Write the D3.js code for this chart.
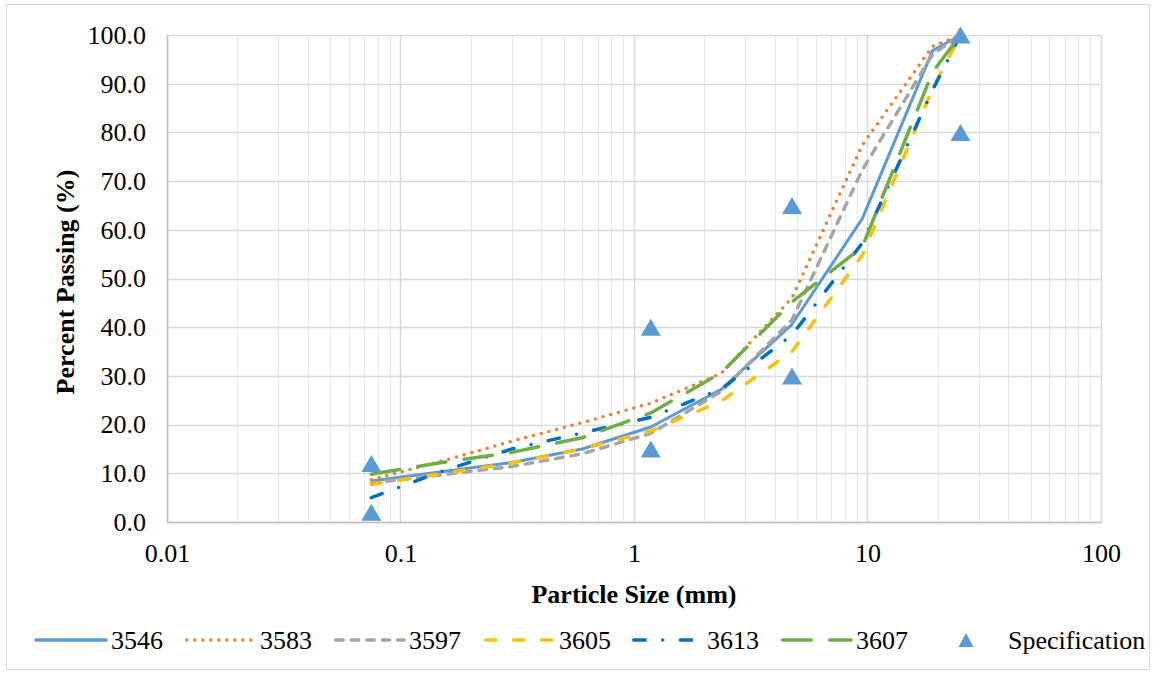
<!DOCTYPE html>
<html>
<head>
<meta charset="utf-8">
<script src="https://cdn.jsdelivr.net/npm/d3@7"></script>
<style>
  html, body { margin: 0; padding: 0; background: #ffffff; }
  svg { display: block; }
  text { font-family: "Liberation Serif", "Times New Roman", serif; fill: #000; }
</style>
</head>
<body>
<svg id="chart" width="1156" height="674"></svg>
<script>
// Sieve sizes (mm) and percent passing for each mix
const sieveSizes = [0.075, 0.15, 0.3, 0.6, 1.18, 2.36, 4.75, 9.5, 19, 25];
const mix3546 = [8.4, 10.3, 12.2, 15.0, 19.5, 27.2, 40.6, 62.3, 96.8, 100];
const mix3583 = [8.7, 12.5, 16.6, 20.4, 24.4, 30.5, 46.0, 77.4, 97.7, 100];
const mix3597 = [8.0, 9.7, 11.4, 14.0, 18.2, 26.8, 41.5, 72.3, 96.0, 100];
const mix3605 = [7.7, 9.9, 12.1, 15.0, 18.7, 24.8, 35.0, 54.8, 89.0, 100];
const mix3613 = [5.0, 10.4, 15.0, 18.3, 21.5, 27.3, 38.4, 57.3, 88.7, 100];
const mix3607 = [9.8, 12.2, 14.3, 17.3, 22.4, 30.6, 45.2, 56.5, 92.4, 100];

// Specification limits (lower/upper band points)
const specSizes = [0.075, 0.075, 1.18, 1.18, 4.75, 4.75, 25, 25];
const specValues = [2, 12, 15, 40, 30, 65, 80, 100];

const seriesNames = ["3546", "3583", "3597", "3605", "3613", "3607"];
const seriesData = [mix3546, mix3583, mix3597, mix3605, mix3613, mix3607];

const xTickValues = [0.01, 0.1, 1, 10, 100];
const xTickLabels = ["0.01", "0.1", "1", "10", "100"];
const yTickValues = [0, 10, 20, 30, 40, 50, 60, 70, 80, 90, 100];

// Line styling per series
const seriesStyles = [
  { color: "#5B9BD5", dash: null },
  { color: "#ED7D31", dash: "0 8" },
  { color: "#A5A5A5", dash: "7.5 8" },
  { color: "#FFC000", dash: "10 18" },
  { color: "#0070C0", dash: "11.5 17.5 0 17.5" },
  { color: "#70AD47", dash: "28.5 18.5" }
];
const specColor = "#5B9BD5";

const svg = d3.select("#chart");
const W = 1156, H = 674;
const plot = { left: 167, right: 1101, top: 35, bottom: 522 };

// outer chart frame
svg.append("rect")
  .attr("x", 6.5).attr("y", 4.5)
  .attr("width", W - 13).attr("height", H - 9)
  .attr("fill", "#fff").attr("stroke", "#d9d9d9").attr("stroke-width", 1);

const x = d3.scaleLog().domain([0.01, 100]).range([plot.left, plot.right]);
const y = d3.scaleLinear().domain([0, 100]).range([plot.bottom, plot.top]);

// minor vertical gridlines (2..9 in each decade)
const minorTicks = [];
for (let e = -2; e < 2; e++) {
  for (let m = 2; m <= 9; m++) minorTicks.push(m * Math.pow(10, e));
}
const grid = svg.append("g");
grid.selectAll("line.minor").data(minorTicks).join("line")
  .attr("x1", d => Math.round(x(d)) + 0.5).attr("x2", d => Math.round(x(d)) + 0.5)
  .attr("y1", plot.top).attr("y2", plot.bottom)
  .attr("stroke", "#e8e8e8").attr("stroke-width", 1);
grid.selectAll("line.majorx").data(xTickValues).join("line")
  .attr("x1", d => Math.round(x(d)) + 0.5).attr("x2", d => Math.round(x(d)) + 0.5)
  .attr("y1", plot.top).attr("y2", plot.bottom)
  .attr("stroke", "#d9d9d9").attr("stroke-width", 1.5);
grid.selectAll("line.majory").data(yTickValues).join("line")
  .attr("x1", plot.left).attr("x2", plot.right)
  .attr("y1", d => Math.round(y(d)) + 0.5).attr("y2", d => Math.round(y(d)) + 0.5)
  .attr("stroke", "#d9d9d9").attr("stroke-width", 1.5);

// axes
const yAxis = d3.axisLeft(y).tickValues(yTickValues)
  .tickFormat(d3.format(".1f")).tickSize(0).tickPadding(21);
const gy = svg.append("g").attr("transform", `translate(${plot.left},0)`).call(yAxis);
gy.select(".domain").attr("stroke", "#bfbfbf").attr("stroke-width", 1.5);
gy.selectAll("text").attr("font-size", 26).style("font-family", "Liberation Serif, serif");

const xAxis = d3.axisBottom(x).tickValues(xTickValues)
  .tickFormat((d, i) => xTickLabels[i]).tickSize(0).tickPadding(21.5);
const gx = svg.append("g").attr("transform", `translate(0,${plot.bottom})`).call(xAxis);
gx.select(".domain").attr("stroke", "#bfbfbf").attr("stroke-width", 1.5);
gx.selectAll("text").attr("font-size", 26).style("font-family", "Liberation Serif, serif");

// axis titles
svg.append("text")
  .attr("x", 634).attr("y", 603)
  .attr("text-anchor", "middle").attr("font-size", 26).attr("font-weight", "bold")
  .text("Particle Size (mm)");
svg.append("text")
  .attr("transform", "translate(74,282) rotate(-90)")
  .attr("text-anchor", "middle").attr("font-size", 26).attr("font-weight", "bold")
  .text("Percent Passing (%)");

// gradation curves
const line = d3.line().x(d => x(d[0])).y(d => y(d[1]));
seriesData.forEach((vals, i) => {
  const pts = sieveSizes.map((s, j) => [s, vals[j]]);
  const st = seriesStyles[i];
  svg.append("path")
    .datum(pts)
    .attr("d", line)
    .attr("fill", "none")
    .attr("stroke", st.color)
    .attr("stroke-width", st.dash ? 3.5 : 3)
    .attr("stroke-linecap", st.dash ? "round" : "butt")
    .attr("stroke-linejoin", "round")
    .attr("stroke-dasharray", st.dash);
});

// specification markers
const tri = (cx, cy, w, h) =>
  `M${cx},${cy - h / 2}L${cx + w / 2},${cy + h / 2}L${cx - w / 2},${cy + h / 2}Z`;
svg.append("g").selectAll("path").data(specSizes.map((s, i) => [s, specValues[i]]))
  .join("path")
  .attr("d", d => tri(x(d[0]), y(d[1]), 20, 17))
  .attr("fill", specColor);

// legend
const legendY = 640;
const legendStarts = [36, 185, 334, 484, 632, 781];
const legend = svg.append("g");
seriesNames.forEach((name, i) => {
  const st = seriesStyles[i];
  const x0 = legendStarts[i];
  legend.append("line")
    .attr("x1", x0 + (st.dash ? 1.75 : 0)).attr("x2", x0 + 70)
    .attr("y1", legendY).attr("y2", legendY)
    .attr("stroke", st.color)
    .attr("stroke-width", st.dash ? 3.5 : 3.5)
    .attr("stroke-linecap", st.dash ? "round" : "round")
    .attr("stroke-dasharray", st.dash);
  legend.append("text")
    .attr("x", x0 + 75).attr("y", legendY + 9)
    .attr("font-size", 26)
    .text(name);
});
legend.append("path").attr("d", tri(966, legendY, 15, 14)).attr("fill", specColor);
legend.append("text").attr("x", 1008).attr("y", legendY + 9)
  .attr("font-size", 26).text("Specification");
</script>
</body>
</html>
